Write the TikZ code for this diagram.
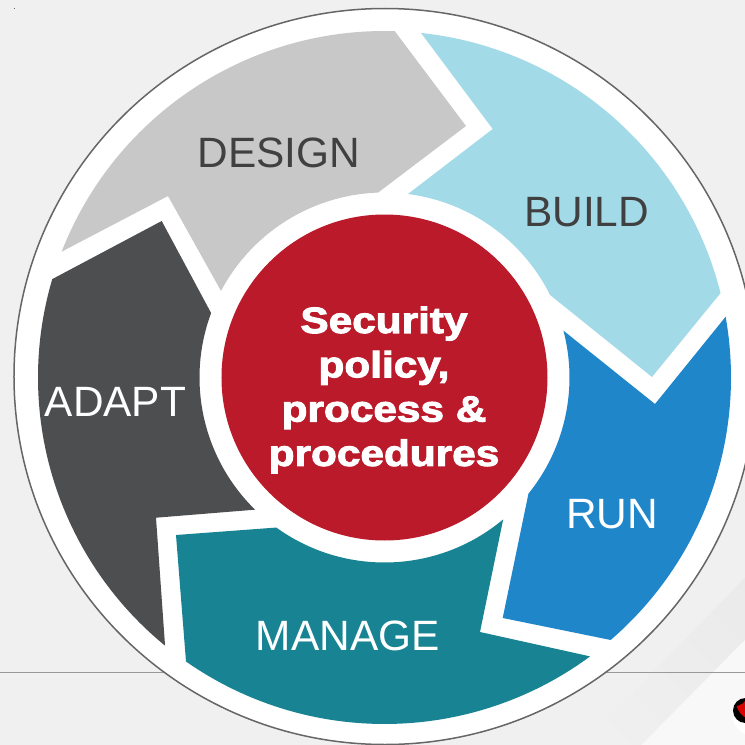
\documentclass[tikz,border=0pt]{standalone}
\usepackage{fontspec}
\setmainfont{Liberation Sans}
\newfontfamily\blackfont{Liberation Sans}[BoldFeatures={FakeBold=2.8,FakeStretch=1.16}]
\definecolor{bgc}{HTML}{F0F0F0}
\definecolor{designc}{HTML}{C8C8C8}
\definecolor{buildc}{HTML}{A3DAE8}
\definecolor{runc}{HTML}{1F86C9}
\definecolor{managec}{HTML}{188393}
\definecolor{adaptc}{HTML}{4D4E50}
\definecolor{redc}{HTML}{BA1A2A}
\definecolor{inkc}{HTML}{404040}
\definecolor{bandc}{HTML}{EAEAEA}
\tikzset{
  seglabel/.style={anchor=base,inner sep=0pt,font=\fontsize{42.4}{50}\selectfont},
  darklabel/.style={seglabel,text=inkc},
  lightlabel/.style={seglabel,text=white},
  corelabel/.style={align=center,inner sep=0pt,text=white,
    font=\blackfont\bfseries\fontsize{36.5}{44.3}\selectfont},
}
\begin{document}
\begin{tikzpicture}[x=1pt,y=1pt]
% origin = ring centre; picture spans 745 x 745
\useasboundingbox (-384.5,-367.5) rectangle (360.5,377.5);
\clip (-384.5,-367.5) rectangle (360.5,377.5);
\fill[bgc] (-384.5,-367.5) rectangle (360.5,377.5);
% background diagonal bands, bottom right
\shade[top color=bandc,bottom color=bgc,shading angle=-45]
  (175,-390) -- (400,-160) -- (400,-200) -- (360.5,-262) -- (257,-367.5) -- cycle;
\fill[white!50!bgc] (257,-367.5) -- (360.5,-262.5) -- (360.5,-367.5) -- cycle;
% footer rule
\draw[black!40,line width=1pt] (-384.5,-294.5) -- (360.5,-294.5);
% logo
\fill[white] (368,-338) circle[radius=20];
\fill[black] (361,-333) circle[radius=12.5];
\fill[red!85!black] (352,-329) .. controls (355,-326) and (358,-328) .. (361,-323)
  -- (361,-340) .. controls (357,-338) and (355,-335) .. cycle;
% speck
\fill[black!70] (-370,369) circle[radius=0.5];
% disc
\draw[fill=white,draw=black!60,line width=1.5pt] (0.5,1) ellipse[x radius=371,y radius=368];
% segments
\fill[designc] (88.3:346.5) arc[start angle=88.3,end angle=158.7,radius=346.5]
  -- (-216.5,181.5) -- (152.1:185) arc[start angle=152.1,end angle=92,radius=185]
  -- (81.5,251.5) -- cycle;
\fill[buildc] (83.95:346.5) -- (108.2,248.5) -- (82.7:185)
  arc[start angle=82.7,end angle=26.5,radius=185]
  -- (267.5,0.5) -- (14.1:346.5) arc[start angle=14.1,end angle=83.95,radius=346.5] -- cycle;
\fill[runc] (14.67:185) -- (270.5,-26.5) -- (10.1:346.5)
  arc[start angle=10.1,end angle=-49.25,radius=346.5]
  -- (118.2,-240.5) -- (-38.9:185) arc[start angle=-38.9,end angle=14.67,radius=185] -- cycle;
\fill[managec] (-50.1:185) -- (95.5,-254.5) -- (-53.6:346.5)
  arc[start angle=-53.6,end angle=-124.95,radius=346.5]
  -- (-208.5,-157.5) -- (-125.8:185) arc[start angle=-125.8,end angle=-50.1,radius=185] -- cycle;
\fill[adaptc] (230.7:346.5) arc[start angle=230.7,end angle=163.5,radius=346.5]
  -- (-222.8,156.5) -- (159.6:185) arc[start angle=159.6,end angle=225.6,radius=185]
  -- (-228.5,-140.2) -- cycle;
% core
\node[circle,fill=redc,minimum size=326pt,inner sep=0pt] (core) at (0,0) {};
\node[corelabel] (coretext) at (-0.5,-12.5) {Security\\policy,\\process \&\\procedures};
% labels
\node[darklabel] (design) at (-105.8,209.5) {DESIGN};
\node[darklabel] (build) at (202.2,150.8) {BUILD};
\node[lightlabel] (adapt) at (-269,-38.5) {ADAPT};
\node[lightlabel] (manage) at (-36.8,-272.5) {MANAGE};
\node[lightlabel] (run) at (227.8,-151.2) {RUN};
\end{tikzpicture}
\end{document}
